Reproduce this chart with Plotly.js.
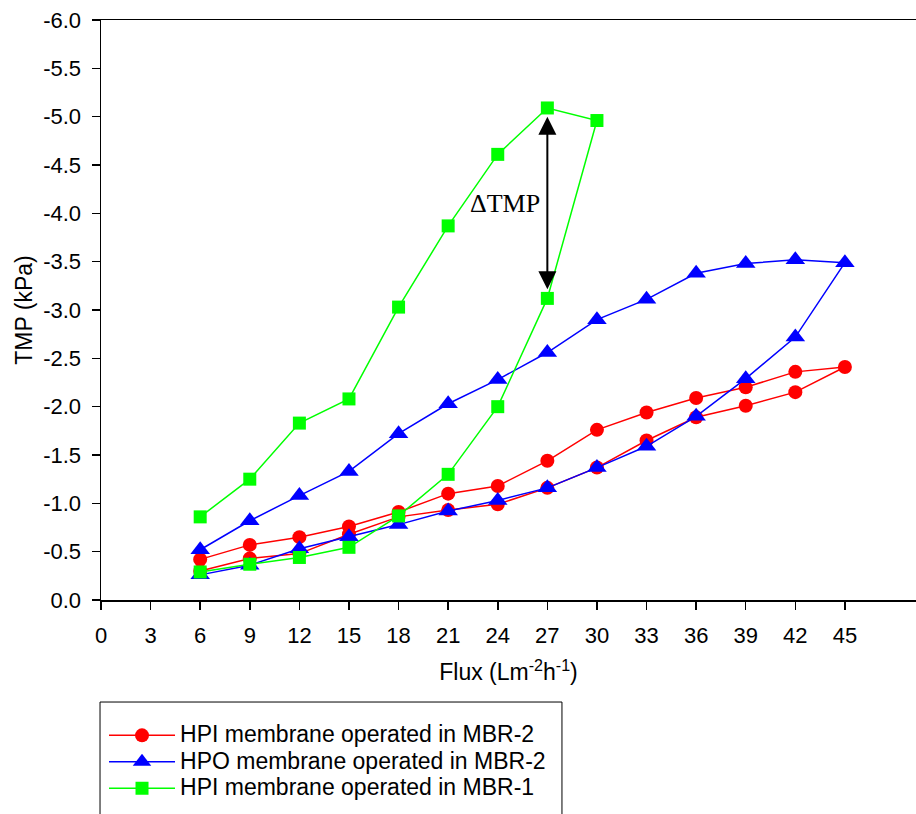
<!DOCTYPE html>
<html>
<head>
<meta charset="utf-8">
<script src="https://cdn.plot.ly/plotly-3.0.1.min.js"></script>
<style>
  html, body { margin: 0; padding: 0; background: #fff; }
  #chart { width: 916px; height: 814px; }
</style>
</head>
<body>
<div id="chart"></div>
<script>
// Flux sweep: up from 6 to 45 (or 30), then back down to 6
const fluxMBR2 = [6, 9, 12, 15, 18, 21, 24, 27, 30, 33, 36, 39, 42, 45, 42, 39, 36, 33, 30, 27, 24, 21, 18, 15, 12, 9, 6];
const fluxMBR1 = [6, 9, 12, 15, 18, 21, 24, 27, 30, 27, 24, 21, 18, 15, 12, 9, 6];

// TMP (kPa) along each sweep
const tmpHPI_MBR2 = [-0.30, -0.43, -0.48, -0.68, -0.86, -0.93, -0.99, -1.16, -1.37, -1.65, -1.89, -2.01, -2.15, -2.41,
                     -2.36, -2.20, -2.09, -1.94, -1.76, -1.44, -1.18, -1.10, -0.91, -0.76, -0.65, -0.57, -0.42];
const tmpHPO_MBR2 = [-0.26, -0.36, -0.53, -0.655, -0.78, -0.92, -1.03, -1.16, -1.37, -1.59, -1.90, -2.29, -2.72, -3.49,
                     -3.52, -3.48, -3.38, -3.11, -2.90, -2.56, -2.28, -2.03, -1.72, -1.33, -1.08, -0.82, -0.52];
const tmpHPI_MBR1 = [-0.29, -0.37, -0.44, -0.545, -0.87, -1.30, -2.00, -3.12, -4.96,
                     -5.09, -4.61, -3.87, -3.03, -2.08, -1.83, -1.25, -0.86];

const seriesNames = ['HPI membrane operated in MBR-2', 'HPO membrane operated in MBR-2', 'HPI membrane operated in MBR-1'];

const xTicks = [0, 3, 6, 9, 12, 15, 18, 21, 24, 27, 30, 33, 36, 39, 42, 45];
const yTicks = [0, -0.5, -1, -1.5, -2, -2.5, -3, -3.5, -4, -4.5, -5, -5.5, -6];
const yTickText = ['0.0', '-0.5', '-1.0', '-1.5', '-2.0', '-2.5', '-3.0', '-3.5', '-4.0', '-4.5', '-5.0', '-5.5', '-6.0'];

// Delta TMP marked at flux 27 between the two sweeps of MBR-1
const deltaFlux = 27;
const deltaTop = -5.0;
const deltaBottom = -3.2;

const sans = 'Liberation Sans, Arial, sans-serif';

// Legend rows keep a compact line pitch while the entry text is drawn larger
function legendLabel(s) {
  return '<span style="font-size:23px">' + s + '</span>';
}

function trace(x, y, name, color, symbol, size) {
  return {
    x: x, y: y, name: legendLabel(name), type: 'scatter', mode: 'lines+markers',
    line: { color: color, width: 1.5 },
    marker: { color: color, symbol: symbol, size: size, line: { width: 0 } }
  };
}

const data = [
  trace(fluxMBR2, tmpHPI_MBR2, seriesNames[0], '#ff0000', 'circle', 14),
  trace(fluxMBR2, tmpHPO_MBR2, seriesNames[1], '#0000ff', 'triangle-up', 17),
  trace(fluxMBR1, tmpHPI_MBR1, seriesNames[2], '#00ff00', 'square', 13)
];

const layout = {
  width: 916, height: 814,
  margin: { l: 101, r: 0, t: 20, b: 214 },
  paper_bgcolor: '#fff', plot_bgcolor: '#fff',
  font: { family: sans, color: '#000' },
  showlegend: true,
  xaxis: {
    range: [0, 49.3],
    tickvals: xTicks,
    ticks: 'outside', ticklen: 8, tickwidth: 1.5, tickcolor: '#000',
    ticklabelstandoff: 7,
    showline: true, linecolor: '#000', linewidth: 1.5, mirror: true,
    showgrid: false, zeroline: false,
    tickfont: { family: sans, size: 22, color: '#000' },
    title: { text: 'Flux (Lm<sup>-2</sup>h<sup>-1</sup>)', font: { family: sans, size: 23, color: '#000' }, standoff: 17 }
  },
  yaxis: {
    range: [0, -6],
    tickvals: yTicks, ticktext: yTickText,
    ticks: 'outside', ticklen: 8, tickwidth: 1.5, tickcolor: '#000',
    ticklabelstandoff: 6,
    showline: true, linecolor: '#000', linewidth: 1.5, mirror: false,
    showgrid: false, zeroline: false,
    tickfont: { family: sans, size: 22, color: '#000' },
    title: { text: 'TMP (kPa)', font: { family: sans, size: 23, color: '#000' }, standoff: 4 }
  },
  legend: {
    x: 0.0037, xanchor: 'left', y: -0.202, yanchor: 'top',
    bgcolor: 'rgba(0,0,0,0)', borderwidth: 0,
    font: { family: sans, size: 18, color: '#000' },
    itemwidth: 66
  },
  shapes: [{
    type: 'rect', xref: 'paper', yref: 'paper',
    x0: -0.0012, x1: 0.5656, y0: -0.1759, y1: -0.40,
    line: { color: '#000', width: 1 }, fillcolor: 'rgba(0,0,0,0)'
  }],
  annotations: [
    {
      x: deltaFlux, y: deltaTop, ax: deltaFlux, ay: deltaBottom,
      xref: 'x', yref: 'y', axref: 'x', ayref: 'y',
      text: '', showarrow: true, arrowside: 'end+start',
      arrowhead: 2, startarrowhead: 2, arrowsize: 1.8, startarrowsize: 1.8,
      arrowwidth: 2, arrowcolor: '#000'
    },
    {
      x: 24.42, y: -4.1, xref: 'x', yref: 'y', showarrow: false,
      text: '\u0394TMP',
      font: { family: 'Liberation Serif, Times New Roman, serif', size: 26, color: '#000' }
    }
  ]
};

Plotly.newPlot('chart', data, layout, { displayModeBar: false, staticPlot: true });
</script>
</body>
</html>
